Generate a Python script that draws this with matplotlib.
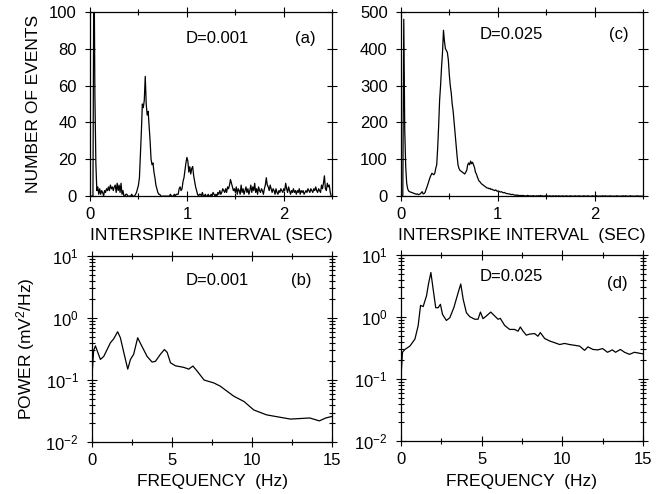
import numpy as np
import matplotlib
matplotlib.use("Agg")
import matplotlib.pyplot as plt
from matplotlib.ticker import MultipleLocator, LogLocator, NullFormatter

plt.rcParams["font.family"] = ["Liberation Sans", "DejaVu Sans"]
plt.rcParams["mathtext.fontset"] = "custom"
plt.rcParams["mathtext.rm"] = "Liberation Sans"
plt.rcParams["mathtext.it"] = "Liberation Sans"

# interspike interval histograms, 0.01 s bins
ISI_BIN = 0.01
isi_counts_a = [
    0, 0, 0, 0, 140, 55, 18, 3, 5, 1,
    4, 1, 3, 2, 0, 3, 2, 4, 3, 5,
    3, 6, 4, 5, 3, 5, 6, 2, 7, 3,
    6, 2, 7, 1, 3, 0, 0, 1, 1, 0,
    0, 0, 0, 1, 0, 0, 0, 1, 2, 4,
    6, 10, 22, 35, 50, 48, 52, 65, 50, 44,
    46, 38, 30, 20, 17, 18, 13, 10, 6, 4,
    2, 1, 1, 0, 0, 0, 0, 0, 0, 0,
    0, 0, 0, 1, 0, 0, 0, 1, 0, 1,
    1, 1, 4, 5, 3, 4, 8, 10, 14, 18,
    21, 19, 13, 16, 12, 15, 16, 11, 8, 5,
    3, 1, 0, 1, 1, 0, 2, 0, 0, 1,
    0, 0, 1, 0, 0, 1, 0, 2, 1, 0,
    1, 0, 2, 1, 3, 1, 2, 4, 3, 2,
    4, 2, 5, 4, 6, 9, 7, 5, 3, 4,
    2, 5, 1, 4, 3, 1, 6, 2, 4, 1,
    3, 5, 2, 4, 1, 3, 6, 2, 5, 3,
    7, 2, 4, 1, 5, 3, 2, 4, 3, 1,
    4, 6, 10, 6, 5, 3, 6, 4, 2, 4,
    3, 1, 4, 2, 1, 3, 2, 4, 3, 2,
    4, 3, 7, 4, 2, 5, 3, 1, 3, 2,
    4, 2, 3, 1, 3, 2, 4, 1, 3, 2,
    3, 1, 2, 3, 2, 4, 3, 2, 4, 3,
    2, 4, 3, 5, 3, 2, 4, 3, 2, 6,
    4, 7, 11, 4, 3, 7, 5, 6, 2, 0,
]
isi_counts_c = [
    0, 0, 0, 480, 180, 80, 35, 20, 14, 12,
    11, 10, 9, 8, 7, 6, 5, 6, 4, 5,
    6, 9, 12, 6, 7, 10, 18, 25, 33, 42,
    50, 56, 62, 60, 58, 62, 75, 85, 130, 190,
    260, 300, 350, 390, 450, 420, 400, 395, 390, 370,
    330, 300, 280, 250, 230, 200, 170, 140, 110, 85,
    75, 70, 68, 66, 64, 62, 60, 65, 70, 85,
    90, 85, 95, 88, 92, 85, 78, 65, 60, 52,
    45, 40, 38, 34, 32, 30, 28, 26, 24, 22,
    22, 20, 21, 18, 19, 17, 16, 15, 17, 14,
    13, 14, 12, 11, 12, 10, 9, 10, 8, 7,
    7, 6, 6, 5, 4, 5, 4, 3, 3, 2,
    3, 2, 2, 1, 2, 1, 2, 1, 1, 0,
    1, 2, 1, 0, 1, 0, 1, 1, 0, 0,
    1, 0, 1, 0, 2, 0, 1, 0, 0, 1,
    0, 1, 0, 0, 1, 0, 0, 1, 0, 0,
    1, 0, 0, 1, 0, 0, 0, 1, 0, 0,
    0, 1, 0, 0, 0, 1, 0, 0, 0, 0,
    1, 0, 0, 0, 1, 0, 0, 0, 0, 1,
    0, 0, 0, 1, 0, 0, 0, 0, 1, 0,
    0, 0, 1, 0, 0, 0, 0, 0, 1, 0,
    0, 1, 0, 0, 0, 0, 1, 0, 0, 0,
    0, 0, 0, 1, 0, 0, 0, 0, 0, 1,
    0, 0, 1, 0, 0, 0, 0, 1, 0, 0,
    0, 0, 0, 0, 1, 0, 0, 0, 0, 0,
]

# power spectra
freq_b = [0.0, 0.1, 0.21, 0.52, 0.73, 1.15, 1.35, 1.6, 1.77, 1.98, 2.23, 2.4, 2.6,
          2.85, 3.0, 3.44, 3.75, 3.96, 4.27, 4.52, 4.69, 4.9, 5.2, 5.73, 6.04,
          6.3, 6.56, 7.0, 7.6, 8.0, 8.85, 9.5, 10.1, 10.9, 11.8, 12.4, 13.0,
          13.6, 14.2, 14.6, 15.0]
power_b = [0.12, 0.30, 0.355, 0.215, 0.24, 0.40, 0.46, 0.60, 0.48, 0.28, 0.15, 0.215,
           0.26, 0.48, 0.40, 0.24, 0.195, 0.20, 0.26, 0.31, 0.28, 0.19, 0.17, 0.16,
           0.15, 0.168, 0.14, 0.10, 0.09, 0.08, 0.055, 0.045, 0.033, 0.0275, 0.025,
           0.0235, 0.024, 0.0245, 0.022, 0.0245, 0.026]

freq_d = [0.0, 0.1, 0.25, 0.56, 0.87, 1.07, 1.22, 1.38, 1.59, 1.71, 1.86, 2.0, 2.16,
          2.31, 2.45, 2.58, 2.82, 3.03, 3.28, 3.55, 3.71, 3.86, 4.06, 4.27, 4.58,
          4.78, 4.93, 5.09, 5.3, 5.57, 5.81, 6.02, 6.16, 6.43, 6.74, 7.05, 7.26,
          7.4, 7.57, 7.77, 7.98, 8.29, 8.49, 8.64, 8.91, 9.22, 9.53, 9.84, 10.14,
          10.45, 10.76, 11.07, 11.38, 11.59, 11.9, 12.2, 12.5, 12.8, 13.1, 13.3,
          13.6, 13.86, 14.16, 14.47, 14.8, 15.0]
power_d = [0.10, 0.27, 0.30, 0.34, 0.44, 0.72, 1.54, 1.47, 2.2, 3.4, 5.2, 2.8, 1.41,
           1.41, 1.6, 1.1, 0.88, 0.97, 1.41, 2.47, 3.4, 1.93, 1.17, 1.01, 0.92,
           0.92, 1.2, 0.94, 1.04, 1.2, 1.04, 0.92, 0.95, 0.73, 0.63, 0.63, 0.59,
           0.69, 0.59, 0.51, 0.53, 0.54, 0.49, 0.56, 0.45, 0.41, 0.385, 0.36, 0.375,
           0.36, 0.35, 0.34, 0.29, 0.33, 0.30, 0.295, 0.31, 0.27, 0.295, 0.27,
           0.30, 0.27, 0.25, 0.27, 0.26, 0.255]

FS = 12
LABEL_FS = 12.5


def style_axes(ax):
    ax.tick_params(which="both", direction="inout", top=True, right=True,
                   labelsize=FS, width=0.8)
    ax.tick_params(which="major", length=7)
    ax.tick_params(which="minor", length=4)
    ax.tick_params(axis="x", which="major", pad=4)
    ax.tick_params(axis="y", which="major", pad=6)
    for sp in ax.spines.values():
        sp.set_linewidth(0.9)


def plot_isi(ax, counts, ymax, ystep, xlabel, dtext, tag, dpos, tagpos):
    xs = np.arange(len(counts)) * ISI_BIN
    ax.plot(xs, counts, color="black", linewidth=0.9)
    ax.set_xlim(0, 2.5)
    ax.set_ylim(0, ymax)
    ax.xaxis.set_major_locator(MultipleLocator(1))
    ax.xaxis.set_minor_locator(MultipleLocator(0.5))
    ax.yaxis.set_major_locator(MultipleLocator(ystep))
    ax.set_xlabel(xlabel, fontsize=LABEL_FS, labelpad=5)
    ax.text(dpos[0], dpos[1], dtext, transform=ax.transAxes, fontsize=FS,
            ha="center", va="center")
    ax.text(tagpos[0], tagpos[1], tag, transform=ax.transAxes, fontsize=FS,
            ha="center", va="center")
    style_axes(ax)


def plot_power(ax, freq, power, dtext, tag, dpos, tagpos):
    ax.plot(freq, power, color="black", linewidth=0.9)
    ax.set_yscale("log")
    ax.set_xlim(0, 15)
    ax.set_ylim(1e-2, 1e1)
    ax.xaxis.set_major_locator(MultipleLocator(5))
    ax.xaxis.set_minor_locator(MultipleLocator(2.5))
    ax.yaxis.set_major_locator(LogLocator(base=10, numticks=10))
    ax.yaxis.set_minor_locator(LogLocator(base=10, subs=np.arange(2, 10), numticks=10))
    ax.yaxis.set_minor_formatter(NullFormatter())
    ax.set_xlabel("FREQUENCY  (Hz)", fontsize=LABEL_FS, labelpad=5)
    ax.text(dpos[0], dpos[1], dtext, transform=ax.transAxes, fontsize=FS,
            ha="center", va="center")
    ax.text(tagpos[0], tagpos[1], tag, transform=ax.transAxes, fontsize=FS,
            ha="center", va="center")
    style_axes(ax)


fig = plt.figure(figsize=(6.67, 4.94), dpi=100)
ax_a = fig.add_axes([0.135, 0.603, 0.363, 0.373])
ax_c = fig.add_axes([0.601, 0.603, 0.363, 0.373])
ax_b = fig.add_axes([0.138, 0.105, 0.360, 0.377])
ax_d = fig.add_axes([0.601, 0.107, 0.363, 0.377])

plot_isi(ax_a, isi_counts_a, 100, 20, "INTERSPIKE INTERVAL (SEC)",
         "D=0.001", "(a)", (0.525, 0.856), (0.888, 0.856))
plot_isi(ax_c, isi_counts_c, 500, 100, "INTERSPIKE INTERVAL  (SEC)",
         "D=0.025", "(c)", (0.457, 0.875), (0.90, 0.875))
plot_power(ax_b, freq_b, power_b, "D=0.001", "(b)", (0.523, 0.87), (0.871, 0.87))
plot_power(ax_d, freq_d, power_d, "D=0.025", "(d)", (0.455, 0.884), (0.895, 0.847))

ax_a.set_ylabel("NUMBER OF EVENTS", fontsize=LABEL_FS, labelpad=6)
ax_b.set_ylabel("POWER (mV$^2$/Hz)", fontsize=LABEL_FS, labelpad=6)

fig.savefig("out.png", dpi=100)
plt.close(fig)
